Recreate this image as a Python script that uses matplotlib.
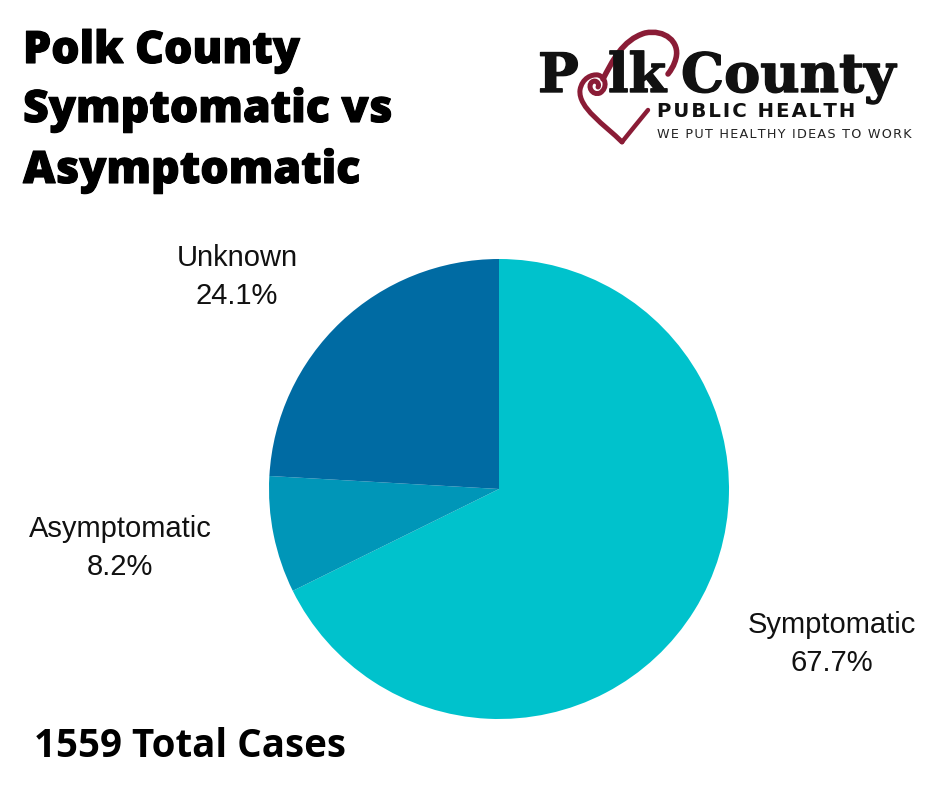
import numpy as np
import matplotlib
matplotlib.use("Agg")
import matplotlib.pyplot as plt
import matplotlib.patheffects as pe
from matplotlib.path import Path
from matplotlib.patches import PathPatch

# data
categories = ["Symptomatic", "Asymptomatic", "Unknown"]
shares = [67.7, 8.2, 24.1]
colors = ["#00C2CC", "#0096B8", "#006BA3"]
total_cases = 1559
# label centres in pie units (radius = 1)
label_pos = [(1.448, -0.674), (-1.648, -0.257), (-1.139, 0.922)]

W, H = 940, 788
fig = plt.figure(figsize=(W / 100, H / 100), dpi=100)
fig.patch.set_facecolor("white")

# overlay axes in pixel coordinates for title + logo
ov = fig.add_axes([0, 0, 1, 1])
ov.set_xlim(0, W)
ov.set_ylim(H, 0)
ov.axis("off")

renderer = fig.canvas.get_renderer()
HAIR = "\u200a"


def fit_text(x, y, s, width, fs=20, **kw):
    t = ov.text(x, y, s, fontsize=fs, va="baseline", ha="left", **kw)
    bb = t.get_window_extent(renderer=renderer)
    t.set_fontsize(fs * width / bb.width)
    return t


# title (extra bold look via a thin stroke)
heavy = [pe.withStroke(linewidth=0.8, foreground="black")]
tfont = dict(family="Open Sans", fontweight=800, color="black",
             path_effects=heavy)
t3 = fit_text(23, 183, "Asymptomatic", 337, **tfont)
fs_title = t3.get_fontsize()
ov.text(23, 63, "Polk County", fontsize=fs_title, va="baseline", **tfont)
ov.text(23, 122, "Symptomatic vs", fontsize=fs_title, va="baseline", **tfont)

# total cases
fit_text(34, 757, f"{total_cases} Total Cases", 312,
         family="Open Sans", fontweight="bold", color="black")

# pie
cx, cy, r = 499, 489, 230
ax = fig.add_axes([(cx - r) / W, (H - cy - r) / H, 2 * r / W, 2 * r / H])
ax.pie(shares, colors=colors, startangle=90, counterclock=False, radius=1,
       wedgeprops=dict(linewidth=0))
ax.set_xlim(-1, 1)
ax.set_ylim(-1, 1)
ax.axis("off")
for name, val, (lx, ly) in zip(categories, shares, label_pos):
    ax.text(lx, ly, f"{name}\n{val}%", ha="center", va="center",
            fontsize=21, family="Liberation Sans", linespacing=1.45,
            color="#111111", clip_on=False)

# logo
red = "#8A1C36"
ink = "#111111"
serif = dict(family="DejaVu Serif", fontweight="bold", color=ink,
             fontsize=39, va="baseline",
             path_effects=[pe.withStroke(linewidth=1.0, foreground=ink)])
ov.text(538, 92, "P", **serif)
ov.text(608, 92, "lk", **serif)
ov.text(681, 92, "County", **serif)
fit_text(657, 117, HAIR.join("PUBLIC HEALTH"), 198,
         family="DejaVu Sans", fontweight="bold", color=ink)
fit_text(657, 138, HAIR.join("WE PUT HEALTHY IDEAS TO WORK"), 256,
         family="DejaVu Sans", color="#222222")

# heart: left side + spiral
verts = [(622, 142),
         (605, 125), (578, 108), (580, 90),
         (582, 78), (592, 74), (598, 75),
         (606, 77), (608, 88), (600, 93),
         (592, 96), (587, 86), (592, 82),
         (596, 79), (600, 84), (598, 87)]
codes = [Path.MOVETO] + [Path.CURVE4] * 15
ov.add_patch(PathPatch(Path(verts, codes), fill=False, edgecolor=red,
                       lw=3.6, capstyle="round"))
# heart: top arc
verts = [(603, 79),
         (612, 62), (622, 40), (645, 33),
         (665, 29), (680, 42), (676, 58),
         (674, 66), (671, 70), (668, 74)]
codes = [Path.MOVETO] + [Path.CURVE4] * 9
ov.add_patch(PathPatch(Path(verts, codes), fill=False, edgecolor=red,
                       lw=4.0, capstyle="round"))
# heart: right side
verts = [(622, 142), (634, 127), (648, 110)]
codes = [Path.MOVETO, Path.CURVE3, Path.CURVE3]
ov.add_patch(PathPatch(Path(verts, codes), fill=False, edgecolor=red,
                       lw=3.2, capstyle="round"))

fig.savefig("out.png", dpi=100, facecolor="white")
